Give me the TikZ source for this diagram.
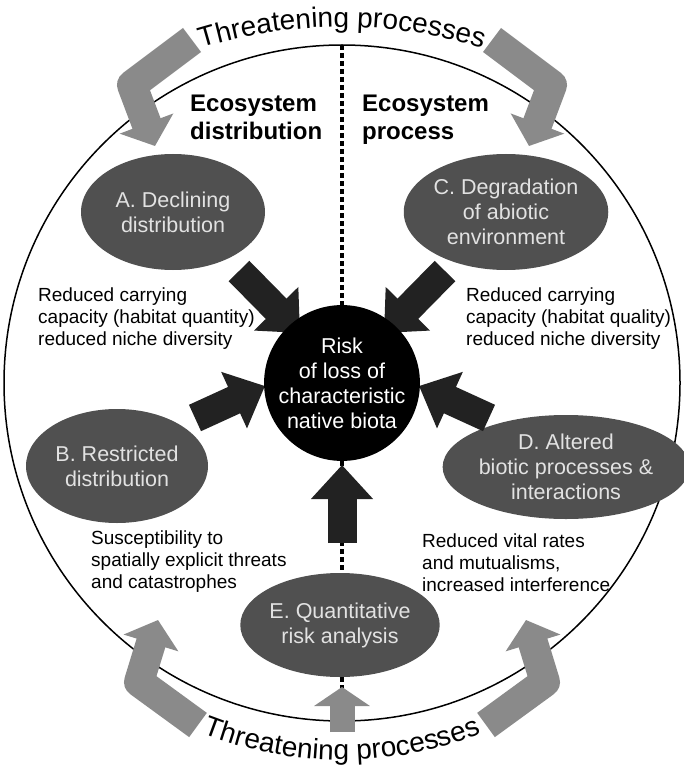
\documentclass[tikz,border=0pt]{standalone}
\usepackage{fontspec}
\setmainfont{Liberation Sans}
\usetikzlibrary{shapes.geometric,arrows.meta,decorations.text}
\definecolor{ellfill}{RGB}{80,80,80}
\definecolor{elltext}{RGB}{226,226,226}
\definecolor{darkarrow}{RGB}{34,34,34}
\definecolor{greyarrow}{RGB}{138,138,138}
\begin{document}
\begin{tikzpicture}[x=1pt,y=1pt,
  ell/.style={ellipse, fill=ellfill, text=elltext, inner sep=0pt, align=center,
    font=\fontsize{21.5}{25}\selectfont},
  desc/.style={anchor=west, align=left, inner sep=0pt, font=\fontsize{19}{22}\selectfont},
  headtxt/.style={anchor=north west, align=left, inner sep=0pt, font=\bfseries\fontsize{24}{28}\selectfont},
  blockarrow/.style={draw=darkarrow, line width=29pt, -{Triangle[width=60pt,length=34pt]}},
  greyarr/.style={draw=greyarrow, line width=30pt, line join=round, -{Triangle[width=56pt,length=24pt]}},
  dotline/.style={line width=3.5pt, dash pattern=on 5pt off 3pt},
  curvtext/.style={decorate, decoration={text along path, text align=center,
    text={|\fontsize{28}{30}\selectfont|Threatening processes}}}
]
\useasboundingbox (0,0) rectangle (684,-770);

% outer circle and divider
\node[circle, draw, line width=1.5pt, minimum size=676pt, inner sep=0pt] (outer) at (342,-383) {};
\coordinate (dtop) at (342,-45);
\coordinate (dbot) at (342,-720);
\draw[dotline] (dtop) -- (dbot);

% grey threatening arrows
\coordinate (tl1) at (192,-40); \coordinate (tl2) at (132,-85); \coordinate (tl3) at (155,-146);
\coordinate (tr1) at (492,-40); \coordinate (tr2) at (552,-85); \coordinate (tr3) at (529,-146);
\coordinate (bl1) at (198,-725); \coordinate (bl2) at (139,-682); \coordinate (bl3) at (158,-620);
\coordinate (br1) at (486,-725); \coordinate (br2) at (545,-682); \coordinate (br3) at (526,-620);
\coordinate (bc1) at (342,-732); \coordinate (bc2) at (342,-687);
\draw[greyarr] (tl1) -- (tl2) -- (tl3);
\draw[greyarr] (tr1) -- (tr2) -- (tr3);
\draw[greyarr] (bl1) -- (bl2) -- (bl3);
\draw[greyarr] (br1) -- (br2) -- (br3);
\draw[greyarr, line width=25pt, -{Triangle[width=55pt,length=19pt]}] (bc1) -- (bc2);

% curved labels
\path[curvtext] (342,-507) ++(125:480pt) arc (125:55:480pt);
\path[curvtext] (342,-380) ++(235:380pt) arc (235:305:380pt);

% headings
\node[headtxt] (hdist) at (190,-95) {Ecosystem\\distribution};
\node[headtxt] (hproc) at (362,-95) {Ecosystem\\process};

% ellipses
\node[ell, minimum width=184pt, minimum height=116pt] (A) at (173,-212) {A. Declining\\distribution};
\node[ell, minimum width=182pt, minimum height=116pt] (C) at (506,-212) {C. Degradation\\of abiotic\\environment};
\node[ell, minimum width=182pt, minimum height=114pt] (B) at (117,-466) {B. Restricted\\distribution};
\node[ell, minimum width=194pt, minimum height=104pt] (D) at (566,-467) {D. Altered\\biotic processes \&\\interactions};
\node[ell, minimum width=182pt, minimum height=104pt] (E) at (340,-625) {E. Quantitative\\risk analysis};

% descriptions
\node[desc] (dA) at (38,-319) {Reduced carrying\\capacity (habitat quantity)\\reduced niche diversity};
\node[desc] (dC) at (466,-319) {Reduced carrying\\capacity (habitat quality)\\reduced niche diversity};
\node[desc] (dB) at (91,-562) {Susceptibility to\\spatially explicit threats\\and catastrophes};
\node[desc] (dD) at (422,-563) {Reduced vital rates\\and mutualisms,\\increased interference};

% black arrows
\coordinate (aA1) at (239,-271); \coordinate (aA2) at (300,-333);
\coordinate (aC1) at (445,-271); \coordinate (aC2) at (384,-333);
\coordinate (aB1) at (195,-418); \coordinate (aB2) at (265,-386);
\coordinate (aD1) at (489,-418); \coordinate (aD2) at (419,-386);
\coordinate (aE1) at (342,-543); \coordinate (aE2) at (342,-465);
\draw[blockarrow] (aA1) -- (aA2);
\draw[blockarrow] (aC1) -- (aC2);
\draw[blockarrow] (aB1) -- (aB2);
\draw[blockarrow] (aD1) -- (aD2);
\draw[blockarrow] (aE1) -- (aE2);

% centre
\node[circle, fill=black, text=white, minimum size=154pt, inner sep=0pt, align=center,
  font=\fontsize{21.5}{25}\selectfont] (R) at (342,-383) {Risk\\of loss of\\characteristic\\native biota};
\end{tikzpicture}
\end{document}
